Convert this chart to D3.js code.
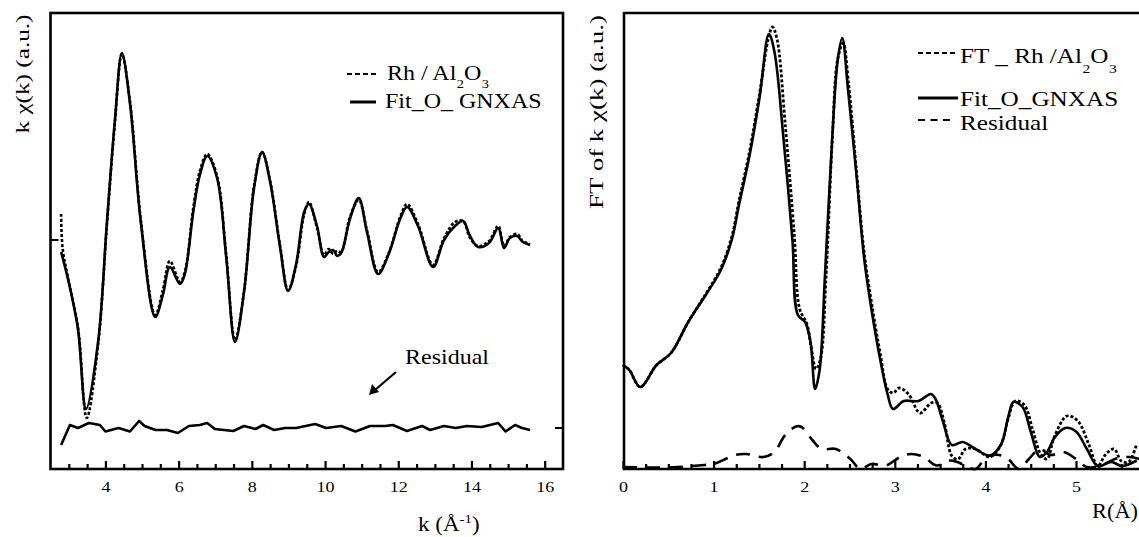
<!DOCTYPE html>
<html><head><meta charset="utf-8">
<script src="https://cdn.jsdelivr.net/npm/d3@7"></script>
<style>
body{margin:0;background:#fff;}
text{font-family:"Liberation Serif","Times New Roman",serif;fill:#000;}
</style></head>
<body><svg id="c" width="1139" height="537"></svg>
<script>
// ---------- Left panel: k-space EXAFS ----------
const kExp = [2.79,2.83,2.99,3.25,3.49,3.80,4.04,4.26,4.45,4.67,4.97,5.36,5.57,5.76,6.04,6.17,6.40,6.58,6.78,7.05,7.30,7.54,7.79,8.06,8.28,8.50,8.77,8.99,9.21,9.43,9.56,9.78,9.97,10.10,10.22,10.33,10.44,10.68,10.92,11.15,11.45,11.75,12.05,12.24,12.54,12.95,13.25,13.55,13.77,13.96,14.18,14.48,14.73,14.89,15.05,15.25,15.40,15.60];
const chiExp = [2.6,-0.8,-4.0,-8.7,-17.8,-10.5,1.5,11.8,18.6,13.9,1.9,-7.5,-5.0,-2.1,-4.2,-3.2,3.2,6.9,8.6,6.4,-1.5,-10.0,-5.0,5.4,8.8,5.9,-0.5,-5.0,-2.6,2.6,3.8,1.2,-1.5,-0.9,-1.4,-1.1,-1.2,2.3,4.0,0.9,-3.2,-1.2,2.3,3.6,1.6,-2.5,0.2,1.8,1.9,0.2,-0.6,-0.1,1.4,-0.6,0.3,0.6,-0.1,-0.4];
const kFit = [2.79,2.99,3.25,3.47,3.80,4.04,4.26,4.45,4.67,4.97,5.36,5.57,5.76,6.04,6.17,6.40,6.58,6.78,7.05,7.30,7.54,7.79,8.06,8.28,8.50,8.77,8.99,9.21,9.43,9.56,9.78,9.97,10.10,10.22,10.33,10.44,10.68,10.92,11.15,11.45,11.75,12.05,12.24,12.54,12.95,13.25,13.55,13.77,13.96,14.18,14.48,14.73,14.89,15.05,15.25,15.40,15.60];
const chiFit = [-1.2,-4.1,-8.9,-16.9,-10.2,1.7,12.0,18.7,13.7,1.7,-7.7,-5.5,-2.7,-4.4,-3.4,2.8,6.5,8.4,6.2,-1.7,-10.2,-5.1,5.2,8.8,5.8,-0.7,-5.1,-2.4,2.8,3.6,1.4,-1.7,-1.2,-1.0,-1.6,-1.3,2.1,4.2,0.7,-3.4,-1.3,2.1,3.3,1.4,-2.7,0,1.4,1.9,0.4,-0.7,-0.3,1.2,-0.8,0.2,0.4,-0.2,-0.5];
const kRes = [2.79,3.03,3.25,3.55,3.85,4.00,4.36,4.67,4.92,5.07,5.37,5.68,5.98,6.28,6.58,6.78,6.99,7.49,7.79,8.10,8.31,8.61,8.91,9.21,9.73,10.03,10.44,10.83,11.23,11.64,11.85,12.24,12.65,12.87,13.25,13.57,13.87,14.28,14.73,14.93,15.19,15.38,15.60];
const chiRes = [-1.7,0.3,0,0.5,0.3,-0.35,0,-0.35,0.7,0.2,-0.2,-0.2,-0.5,0.2,0.3,0.5,-0.1,-0.3,0.2,-0.1,0.3,-0.2,0,0,0.4,0,0.2,-0.35,0.2,0.2,0.3,-0.3,0.2,-0.2,0.2,0,0.2,0.1,0.5,-0.35,0.3,0,-0.2];
const resOffset = -18.8;
const kMajorTicks = [4,6,8,10,12,14,16];
const kMinorTicks = [3,3.5,4.5,5,5.5,6.5,7,7.5,8.5,9,9.5,10.5,11,11.5,12.5,13,13.5,14.5,15,15.5];

// ---------- Right panel: Fourier transforms ----------
const rExp = [0,0.07,0.19,0.37,0.53,0.72,0.92,1.08,1.20,1.28,1.40,1.51,1.61,1.65,1.70,1.79,1.89,1.95,2.03,2.08,2.13,2.18,2.24,2.31,2.37,2.43,2.49,2.58,2.66,2.74,2.84,2.92,2.98,3.05,3.15,3.28,3.40,3.47,3.55,3.63,3.70,3.78,3.89,4.05,4.17,4.25,4.33,4.43,4.52,4.61,4.68,4.76,4.90,5.02,5.14,5.24,5.33,5.42,5.50,5.58,5.67];
const ftExp = [10.4,9.9,8.2,10.4,11.6,14.7,17.6,20.1,23.2,26.8,31.9,37.7,43.3,44.2,43.0,34.5,23.5,16.0,14.5,12.0,10.0,11.0,19.0,33.0,41.0,42.6,38.5,29.5,21.8,16.8,11.5,8.0,7.6,8.1,7.5,5.6,6.6,6.6,4.5,1.3,1.0,2.0,2.0,1.2,2.4,5.0,6.8,6.4,4.0,1.5,1.0,3.2,5.3,4.8,2.5,0.3,1.5,2.0,0.8,0.7,2.5];
const rFit = [0,0.07,0.19,0.37,0.53,0.72,0.92,1.08,1.20,1.28,1.40,1.51,1.61,1.67,1.77,1.87,1.93,2.01,2.07,2.12,2.17,2.23,2.31,2.37,2.42,2.48,2.58,2.66,2.74,2.84,2.92,2.98,3.10,3.26,3.40,3.45,3.53,3.63,3.75,3.89,4.05,4.17,4.25,4.31,4.41,4.50,4.60,4.68,4.76,4.88,5.00,5.12,5.24,5.39,5.51,5.67];
const ftFit = [10.4,9.9,8.2,10.4,11.6,14.7,17.5,19.9,22.9,26.4,31.5,37.3,43.5,41.8,33.2,22.9,15.4,14.7,12.7,8.0,9.9,19.5,33.2,40.9,43.1,38.3,29.1,21.2,16.1,10.9,7.5,6.0,6.8,6.8,7.5,7.0,4.8,2.4,2.7,2.0,1.35,2.4,5.1,6.7,6.2,3.75,1.2,1.7,3.1,4.1,3.75,2.0,0.3,0.7,0.3,0.85];
const rRes = [0,0.3,0.6,0.9,1.0,1.24,1.36,1.55,1.67,1.79,1.91,1.97,2.09,2.19,2.35,2.51,2.62,2.74,2.90,3.06,3.18,3.32,3.46,3.61,3.69,3.89,4.01,4.15,4.25,4.37,4.48,4.60,4.72,4.86,5.00,5.12,5.28,5.43,5.59,5.70];
const ftRes = [0.2,0.15,0.2,0.4,0.5,1.4,1.5,1.2,1.7,3.4,4.25,4.2,2.9,2.0,2.0,1.0,0,0.5,0.35,1.2,1.5,1.2,0.35,0.85,0.7,0,1.2,1.4,1.0,0,1.0,2.0,1.4,1.7,1.0,0.2,0.35,1.0,1.2,1.0];
const rMajorTicks = [0,1,2,3,4,5];
const rMinorTicks = [0.25,0.5,0.75,1.25,1.5,1.75,2.25,2.5,2.75,3.25,3.5,3.75,4.25,4.5,4.75,5.25,5.5,5.75];

const SX = 1.2; // horizontal glyph stretch of the reference
const svg = d3.select("#c");
svg.append("rect").attr("width",1139).attr("height",537).attr("fill","#fff");

function txt(g, x, y, s, size, anchor, sx){
  return g.append("text").attr("transform",`translate(${x},${y}) scale(${sx||SX},1)`)
    .attr("text-anchor",anchor||"start").style("font-size",size+"px").text(s);
}
function zip(a,b){return a.map((v,i)=>[v,b[i]]);}
// chemical formula "prefix Al2O3" drawn as separate text pieces (subscripts lowered)
function formula(g, x, y, prefix, size, subSize, subDy){
  const main = txt(g, x, y, prefix, size);
  const w = main.node().getComputedTextLength()*SX;
  const s2 = txt(g, x+w+0.5, y+subDy, "2", subSize);
  const w2 = s2.node().getComputedTextLength()*SX;
  const o = txt(g, x+w+w2+0.5, y, "O", size);
  const wo = o.node().getComputedTextLength()*SX;
  txt(g, x+w+w2+wo+1, y+subDy, "3", subSize);
}

// ======== LEFT PANEL ========
const xL = d3.scaleLinear().domain([2.5,16.5]).range([50.5,563]);
const yL = d3.scaleLinear().domain([-22.9,22.7]).range([469,13]);
const gL = svg.append("g");

const axL = gL.append("g").attr("transform","translate(0,469)")
  .call(d3.axisBottom(xL).tickValues(kMajorTicks).tickSizeInner(-8).tickSizeOuter(0).tickPadding(12));
axL.select(".domain").remove();
axL.selectAll("line").attr("stroke","#000").attr("stroke-width",2.2);
axL.selectAll("text").style("font-size","15px").style("font-family","Liberation Serif, serif").attr("transform",`scale(${SX},1)`);
const axLm = gL.append("g").attr("transform","translate(0,469)")
  .call(d3.axisBottom(xL).tickValues(kMinorTicks).tickSizeInner(-5).tickSizeOuter(0).tickFormat(""));
axLm.select(".domain").remove();
axLm.selectAll("line").attr("stroke","#000").attr("stroke-width",2.2);

// y baseline marks
gL.append("line").attr("x1",xL.range()[0]).attr("x2",xL.range()[0]+8).attr("y1",yL(0)).attr("y2",yL(0)).attr("stroke","#000").attr("stroke-width",2);
gL.append("line").attr("x1",xL.range()[1]).attr("x2",xL.range()[1]-8).attr("y1",yL(resOffset)).attr("y2",yL(resOffset)).attr("stroke","#000").attr("stroke-width",2);

const lineL = d3.line().x(d=>xL(d[0])).y(d=>yL(d[1])).curve(d3.curveCatmullRom.alpha(0.5));
gL.append("path").attr("d",lineL(zip(kExp,chiExp))).attr("fill","none").attr("stroke","#000").attr("stroke-width",2.6).attr("stroke-dasharray","3,2");
gL.append("path").attr("d",lineL(zip(kFit,chiFit))).attr("fill","none").attr("stroke","#000").attr("stroke-width",2.6);
const lineLr = d3.line().x(d=>xL(d[0])).y(d=>yL(d[1]+resOffset)).curve(d3.curveLinear);
gL.append("path").attr("d",lineLr(zip(kRes,chiRes))).attr("fill","none").attr("stroke","#000").attr("stroke-width",2.6).attr("stroke-linejoin","round");

gL.append("rect").attr("x",50.5).attr("y",13).attr("width",563-50.5).attr("height",456).attr("fill","none").attr("stroke","#000").attr("stroke-width",2.6);

// legend left
gL.append("line").attr("x1",347).attr("x2",378).attr("y1",74).attr("y2",74).attr("stroke","#000").attr("stroke-width",2).attr("stroke-dasharray","5,3");
formula(gL, 387, 80, "Rh / Al", 20, 12, 8);
gL.append("line").attr("x1",350).attr("x2",376).attr("y1",102).attr("y2",102).attr("stroke","#000").attr("stroke-width",3);
txt(gL,385,108,"Fit_O_ GNXAS",20);

// Residual annotation
txt(gL,405,364,"Residual",20);
gL.append("line").attr("x1",396).attr("y1",372).attr("x2",375).attr("y2",390).attr("stroke","#000").attr("stroke-width",2.2);
gL.append("path").attr("d","M369,395 L372,384 L379,392 Z").attr("fill","#000");

// axis titles left
gL.append("text").attr("transform","translate(29,74) rotate(-90)").attr("text-anchor","middle")
  .style("font-size","19px").attr("textLength",119).attr("lengthAdjust","spacingAndGlyphs").text("k χ(k)  (a.u.)");
const xt = gL.append("text").attr("transform",`translate(418,531) scale(1.15,1)`).style("font-size","20px");
xt.append("tspan").text("k (Å");
xt.append("tspan").attr("dy",-8).style("font-size","13px").text("-1");
xt.append("tspan").attr("dy",8).text(")");

// ======== RIGHT PANEL ========
const xR = d3.scaleLinear().domain([0,6]).range([623,623+6*90.6]);
const yR = d3.scaleLinear().domain([0,45.6]).range([469,13]);
const gR = svg.append("g");

const axR = gR.append("g").attr("transform","translate(0,469)")
  .call(d3.axisBottom(xR).tickValues(rMajorTicks).tickSizeInner(-8).tickSizeOuter(0).tickPadding(12).tickFormat(d3.format("d")));
axR.select(".domain").remove();
axR.selectAll("line").attr("stroke","#000").attr("stroke-width",2.2);
axR.selectAll("text").style("font-size","15px").style("font-family","Liberation Serif, serif").attr("transform",`scale(${SX},1)`);
const axRm = gR.append("g").attr("transform","translate(0,469)")
  .call(d3.axisBottom(xR).tickValues(rMinorTicks).tickSizeInner(-5).tickSizeOuter(0).tickFormat(""));
axRm.select(".domain").remove();
axRm.selectAll("line").attr("stroke","#000").attr("stroke-width",2.2);

const lineR = d3.line().x(d=>xR(d[0])).y(d=>yR(d[1])).curve(d3.curveCatmullRom.alpha(0.5));
gR.append("path").attr("d",lineR(zip(rRes,ftRes))).attr("fill","none").attr("stroke","#000").attr("stroke-width",2.6).attr("stroke-dasharray","14,9");
gR.append("path").attr("d",lineR(zip(rExp,ftExp))).attr("fill","none").attr("stroke","#000").attr("stroke-width",2.8).attr("stroke-dasharray","3,2");
gR.append("path").attr("d",lineR(zip(rFit,ftFit))).attr("fill","none").attr("stroke","#000").attr("stroke-width",2.6);

gR.append("path").attr("d","M1145,13 H624 V469 H1145").attr("fill","none").attr("stroke","#000").attr("stroke-width",2.6);

// legend right
gR.append("line").attr("x1",918).attr("x2",957).attr("y1",53).attr("y2",53).attr("stroke","#000").attr("stroke-width",2).attr("stroke-dasharray","5,3");
formula(gR, 960, 63, "FT _ Rh /Al", 21, 13, 10);
gR.append("line").attr("x1",918).attr("x2",958).attr("y1",98).attr("y2",98).attr("stroke","#000").attr("stroke-width",3);
txt(gR,960,106,"Fit_O_GNXAS",21);
gR.append("line").attr("x1",918).attr("x2",952).attr("y1",120).attr("y2",120).attr("stroke","#000").attr("stroke-width",2).attr("stroke-dasharray","7,5.5");
txt(gR,960,130,"Residual",21);

// axis titles right
gR.append("text").attr("transform","translate(603,112) rotate(-90)").attr("text-anchor","middle")
  .style("font-size","19px").attr("textLength",194).attr("lengthAdjust","spacingAndGlyphs").text("FT  of  k χ(k) (a.u.)");
txt(gR,1092,518,"R(Å)",20,"start",1.12);
</script></body></html>
